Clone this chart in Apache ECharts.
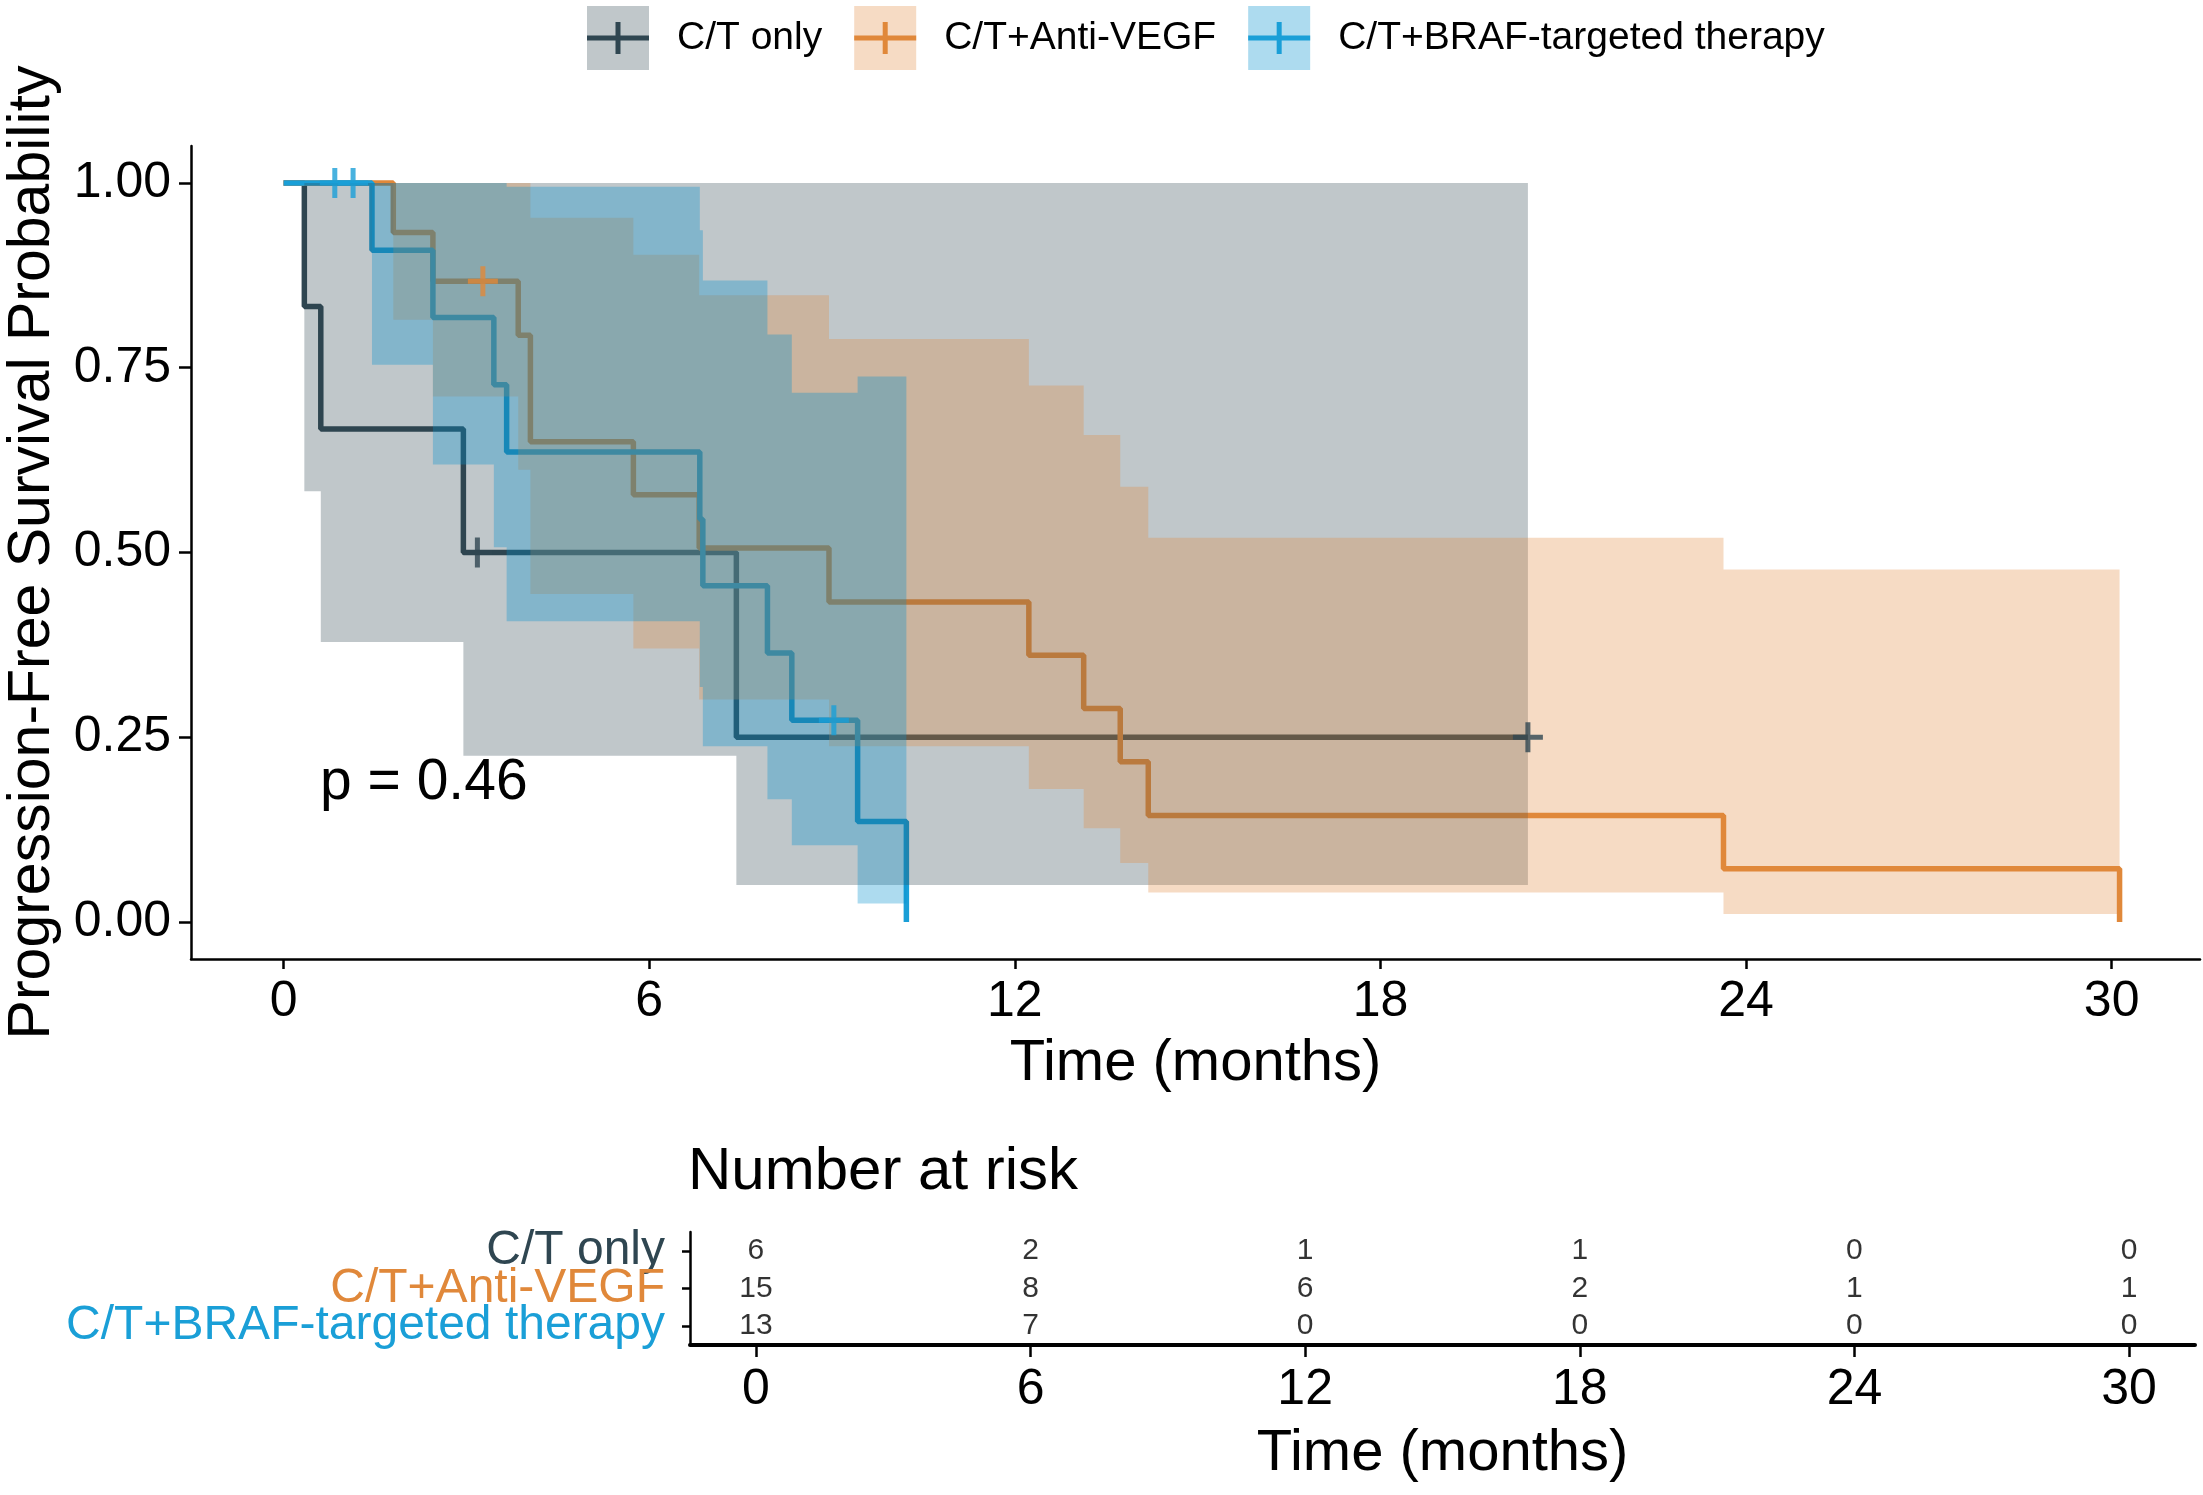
<!DOCTYPE html>
<html lang="en">
<head>
<meta charset="UTF-8">
<title>Progression-Free Survival</title>
<script src="https://cdn.jsdelivr.net/npm/echarts@6/dist/echarts.min.js"></script>
<style>
  html, body { margin: 0; padding: 0; background: #fff; }
  #main { width: 2203px; height: 1495px; }
</style>
</head>
<body>
<div id="main"></div>
<script>
// groups
var groups = ['C/T only', 'C/T+Anti-VEGF', 'C/T+BRAF-targeted therapy'];

// C/T only: KM steps (months), survival and 95% CI
var ctTimes = [0, 0.34, 0.61, 2.95, 7.43, 20.42];
var ctSurv  = [1, 0.833, 0.667, 0.500, 0.250, 0.250];
var ctLower = [1, 0.583, 0.379, 0.225, 0.050, 0.050];
var ctUpper = [1, 1, 1, 1, 1, 1];
var ctCensT = [3.18, 20.42];
var ctCensS = [0.500, 0.250];

// C/T+Anti-VEGF
var vegfTimes = [0, 1.80, 2.45, 3.85, 4.05, 5.74, 6.82, 8.95, 12.23, 13.13, 13.73, 14.19, 23.63, 30.13];
var vegfSurv  = [1, 0.933, 0.867, 0.794, 0.650, 0.578, 0.506, 0.433, 0.361, 0.289, 0.217, 0.144, 0.072, 0];
var vegfLower = [1, 0.815, 0.711, 0.612, 0.444, 0.370, 0.301, 0.238, 0.180, 0.127, 0.080, 0.040, 0.011, 0];
var vegfUpper = [1, 1, 1, 1, 0.953, 0.903, 0.848, 0.789, 0.726, 0.659, 0.589, 0.520, 0.477, 0];
var vegfCensT = [3.27];
var vegfCensS = [0.867];

// C/T+BRAF-targeted therapy
var brafTimes = [0, 1.45, 2.45, 3.45, 3.66, 6.83, 6.88, 7.94, 8.34, 9.42, 10.22];
var brafSurv  = [1, 0.909, 0.818, 0.727, 0.636, 0.545, 0.455, 0.364, 0.273, 0.136, 0];
var brafLower = [1, 0.754, 0.619, 0.507, 0.407, 0.318, 0.238, 0.166, 0.104, 0.025, 0];
var brafUpper = [1, 1, 1, 1, 0.995, 0.936, 0.868, 0.795, 0.716, 0.738, 0];
var brafCensT = [0.84, 1.14, 9.03];
var brafCensS = [1, 1, 0.273];

// number at risk table
var riskTimes = [0, 6, 12, 18, 24, 30];
var riskCT    = [6, 2, 1, 1, 0, 0];
var riskVEGF  = [15, 8, 6, 2, 1, 1];
var riskBRAF  = [13, 7, 0, 0, 0, 0];

var xTicks = [0, 6, 12, 18, 24, 30];
var yTicks = [0, 0.25, 0.5, 0.75, 1];

var lineColors = ['#2F4651', '#E0883A', '#1A9FD7'];
var bandColors = ['rgba(47,70,81,0.3)', 'rgba(224,136,58,0.3)', 'rgba(5,145,205,0.33)'];
var font = 'Liberation Sans, Arial, sans-serif';

var plusPath = 'path://M0,12.5 L30,12.5 L30,17.5 L0,17.5 Z M12.5,0 L17.5,0 L17.5,30 L12.5,30 Z';
// legend glyph: step line across the box plus a censor tick (corner dots keep the box size)
var legendPath = 'path://M0,0 L0.01,0 M62,64 L61.99,64 M0,29.5 L62,29.5 L62,34.5 L0,34.5 Z M28.5,16 L33.5,16 L33.5,48 L28.5,48 Z';

function bandSeries(name, times, lower, upper, fill) {
    return {
        name: name,
        type: 'custom',
        coordinateSystem: 'cartesian2d',
        xAxisIndex: 0, yAxisIndex: 0,
        silent: true,
        z: 2,
        data: [[times[0], upper[0]]],
        renderItem: function (params, api) {
            var top = [], bot = [];
            for (var i = 0; i < times.length - 1; i++) {
                top.push(api.coord([times[i], upper[i]]), api.coord([times[i + 1], upper[i]]));
                bot.push(api.coord([times[i], lower[i]]), api.coord([times[i + 1], lower[i]]));
            }
            return {
                type: 'polygon',
                shape: { points: top.concat(bot.reverse()) },
                style: { fill: fill }
            };
        }
    };
}

function kmLine(name, times, surv, color) {
    return {
        name: name,
        type: 'line',
        step: 'end',
        xAxisIndex: 0, yAxisIndex: 0,
        z: 1,
        silent: true,
        symbol: 'none',
        lineStyle: { color: color, width: 5.5 },
        itemStyle: { color: color },
        data: times.map(function (t, i) { return [t, surv[i]]; })
    };
}

function censorMarks(name, times, surv, color) {
    return {
        name: name,
        type: 'scatter',
        xAxisIndex: 0, yAxisIndex: 0,
        z: 3,
        silent: true,
        symbol: plusPath,
        symbolSize: 30,
        itemStyle: { color: color },
        data: times.map(function (t, i) { return [t, surv[i]]; })
    };
}

function riskRow(counts, row) {
    return riskTimes.map(function (t, i) { return [t, row, counts[i]]; });
}

var myChart = echarts.init(document.getElementById('main'));

var option = {
    animation: false,
    backgroundColor: '#fff',
    textStyle: { fontFamily: font },
    title: {
        text: 'Number at risk',
        left: 688, top: 1142, padding: 0,
        textStyle: { fontSize: 60, fontWeight: 'normal', color: '#000', fontFamily: font }
    },
    legend: [
        {
            left: 587, top: 6, padding: 0,
            itemWidth: 62, itemHeight: 64, itemGap: 32,
            selectedMode: false,
            data: groups.map(function (g, i) {
                return { name: g, icon: 'rect', itemStyle: { color: bandColors[i] } };
            }),
            textStyle: { fontSize: 39, color: '#000', fontFamily: font, padding: [12, 0, 0, 23] }
        },
        {
            left: 587, top: 6, padding: 0,
            itemWidth: 62, itemHeight: 64, itemGap: 32,
            selectedMode: false,
            data: groups.map(function (g, i) {
                return { name: g, icon: legendPath, itemStyle: { color: lineColors[i] } };
            }),
            textStyle: { fontSize: 39, color: 'rgba(0,0,0,0)', fontFamily: font, padding: [12, 0, 0, 23] }
        }
    ],
    graphic: [{
        type: 'text',
        left: 320, top: 755,
        style: { text: 'p = 0.46', font: '57px ' + font, fill: '#000' }
    }],
    grid: [
        { left: 191, top: 146, width: 2009, height: 813, containLabel: false, outerBoundsMode: 'none' },
        { left: 690, top: 1232, width: 1505, height: 113, containLabel: false, outerBoundsMode: 'none' }
    ],
    xAxis: [
        {
            gridIndex: 0, type: 'value', min: -1.52, max: 31.45,
            name: 'Time (months)', nameLocation: 'middle', nameGap: 76,
            nameTextStyle: { fontSize: 58, color: '#000', fontFamily: font },
            axisLine: { show: true, onZero: false, lineStyle: { color: '#000', width: 2.5 } },
            axisTick: { show: true, length: 10, lineStyle: { color: '#000', width: 2.5 }, customValues: xTicks },
            axisLabel: { fontSize: 50, color: '#000', margin: 18, customValues: xTicks },
            splitLine: { show: false }
        },
        {
            gridIndex: 1, type: 'value', min: -1.44, max: 31.44,
            name: 'Time (months)', nameLocation: 'middle', nameGap: 80,
            nameTextStyle: { fontSize: 58, color: '#000', fontFamily: font },
            axisLine: { show: true, onZero: false, lineStyle: { color: '#000', width: 4 } },
            axisTick: { show: true, length: 12, lineStyle: { color: '#000', width: 2.5 }, customValues: xTicks },
            axisLabel: { fontSize: 50, color: '#000', margin: 20, customValues: xTicks },
            splitLine: { show: false }
        }
    ],
    yAxis: [
        {
            gridIndex: 0, type: 'value', min: -0.05, max: 1.05,
            name: 'Progression-Free Survival Probability', nameLocation: 'middle', nameGap: 129,
            nameTextStyle: { fontSize: 59, color: '#000', fontFamily: font },
            axisLine: { show: true, onZero: false, lineStyle: { color: '#000', width: 2.5 } },
            axisTick: { show: true, length: 12, lineStyle: { color: '#000', width: 2.5 }, customValues: yTicks },
            axisLabel: {
                fontSize: 50, color: '#000', margin: 20, customValues: yTicks,
                formatter: function (v) { return v.toFixed(2); }
            },
            splitLine: { show: false }
        },
        {
            gridIndex: 1, type: 'category', data: groups, inverse: true,
            axisLine: { show: true, onZero: false, lineStyle: { color: '#000', width: 2.5 } },
            axisTick: { show: true, alignWithLabel: true, length: 8, lineStyle: { color: '#000', width: 2.5 } },
            axisLabel: {
                fontSize: 48, margin: 25, interval: 0,
                color: function (v, i) { return lineColors[groups.indexOf(v)]; }
            },
            splitLine: { show: false }
        }
    ],
    series: [
        bandSeries(groups[0], ctTimes, ctLower, ctUpper, bandColors[0]),
        bandSeries(groups[1], vegfTimes, vegfLower, vegfUpper, bandColors[1]),
        bandSeries(groups[2], brafTimes, brafLower, brafUpper, bandColors[2]),
        kmLine(groups[0], ctTimes, ctSurv, lineColors[0]),
        kmLine(groups[1], vegfTimes, vegfSurv, lineColors[1]),
        kmLine(groups[2], brafTimes, brafSurv, lineColors[2]),
        censorMarks(groups[0], ctCensT, ctCensS, lineColors[0]),
        censorMarks(groups[1], vegfCensT, vegfCensS, lineColors[1]),
        censorMarks(groups[2], brafCensT, brafCensS, lineColors[2]),
        {
            name: 'risk',
            type: 'scatter',
            xAxisIndex: 1, yAxisIndex: 1,
            silent: true,
            symbolSize: 1,
            itemStyle: { color: 'rgba(0,0,0,0)' },
            label: {
                show: true, position: 'inside', fontSize: 30, color: '#000',
                formatter: function (p) { return p.value[2]; }
            },
            data: riskRow(riskCT, 0).concat(riskRow(riskVEGF, 1), riskRow(riskBRAF, 2))
        }
    ]
};

myChart.setOption(option);
</script>
</body>
</html>
